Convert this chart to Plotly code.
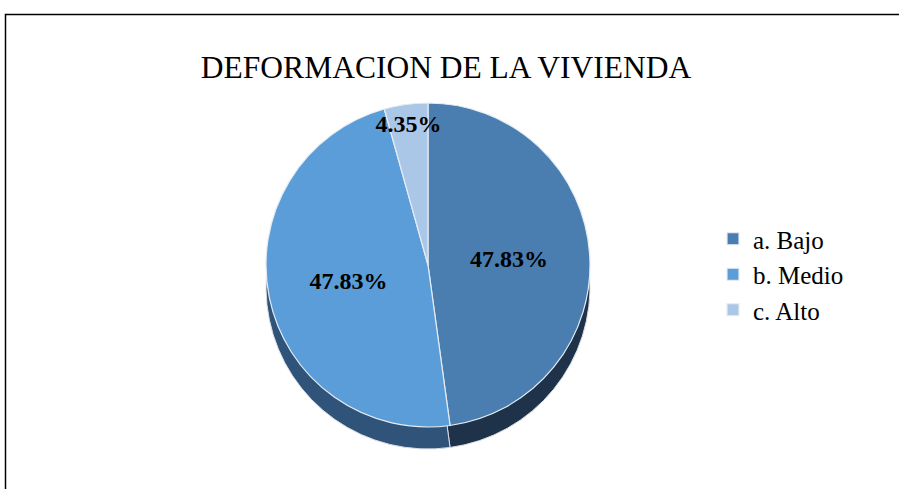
import plotly.graph_objects as go

categories = ["a. Bajo", "b. Medio", "c. Alto"]
counts = [11, 11, 1]
colors = ["#4a7eb1", "#5b9dd8", "#abc7e8"]
side_colors = ["#1e334a", "#305479", "#3f5f86"]
title_text = "DEFORMACION DE LA VIVIENDA"

W, H = 899, 489
cx, cy, d = 428, 265, 324
depth = 22

def dom(cx, cy, d):
    return dict(x=[(cx - d / 2) / W, (cx + d / 2) / W],
                y=[1 - (cy + d / 2) / H, 1 - (cy - d / 2) / H])

fig = go.Figure()
# side (depth) of the pie
fig.add_trace(go.Pie(
    labels=categories, values=counts, sort=False, direction="clockwise", rotation=0,
    marker=dict(colors=side_colors, line=dict(color="#d9dde3", width=1)),
    textinfo="none", hoverinfo="skip", showlegend=False,
    domain=dom(cx, cy + depth, d),
))
# top face
fig.add_trace(go.Pie(
    labels=categories, values=counts, sort=False, direction="clockwise", rotation=0,
    marker=dict(colors=colors, line=dict(color="#e6ecf3", width=1.2)),
    texttemplate="<b>%{percent:.2%}</b>", textposition="inside",
    insidetextorientation="horizontal",
    textfont=dict(family="Liberation Serif", size=24, color="black"),
    domain=dom(cx, cy, d),
))

fig.update_layout(
    width=W, height=H,
    margin=dict(l=0, r=0, t=0, b=0),
    paper_bgcolor="white",
    title=dict(text=title_text, x=446 / W, y=1 - 67 / H, xanchor="center", yanchor="middle",
               font=dict(family="Liberation Serif", size=31.5, color="black")),
    legend=dict(x=713 / W, y=1 - 216 / H, xanchor="left", yanchor="top",
                font=dict(family="Liberation Serif", size=25, color="black"),
                bgcolor="rgba(0,0,0,0)"),
    uniformtext=dict(minsize=24, mode="show"),
    shapes=[dict(type="rect", xref="paper", yref="paper",
                 x0=5.5 / W, x1=1.05, y0=-0.05, y1=1 - 14.5 / H,
                 line=dict(color="black", width=1.5))],
)

fig.write_html("out.html", config={"displayModeBar": False},
               post_script="document.body.style.margin='0';")
